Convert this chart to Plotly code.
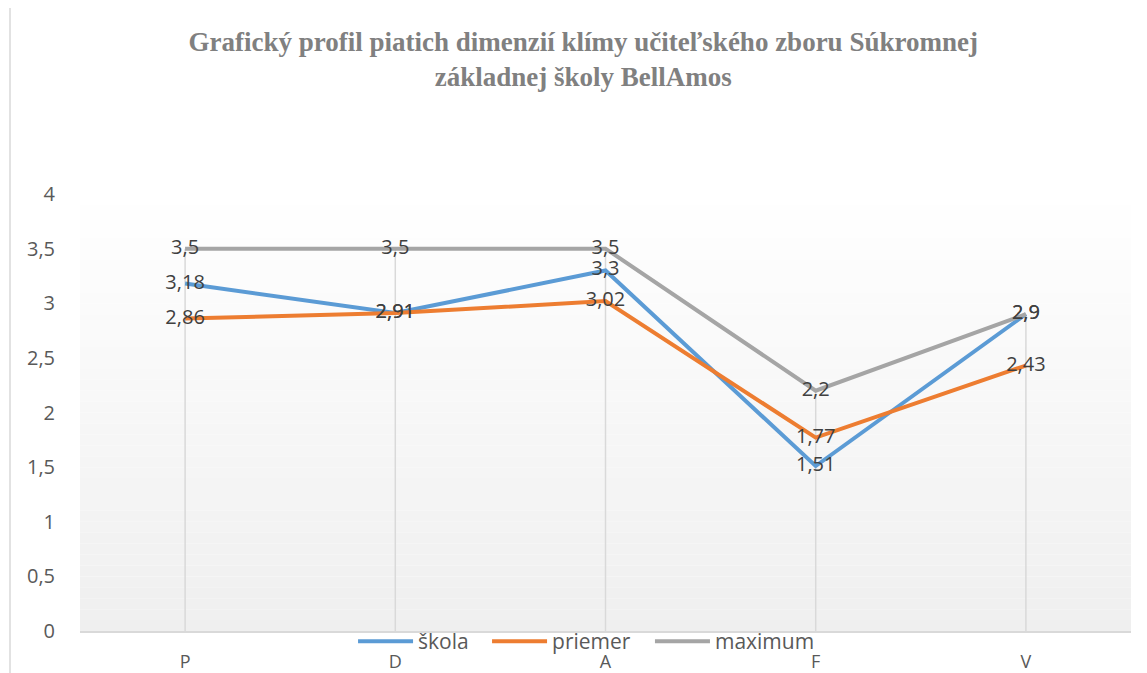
import plotly.graph_objects as go

categories = ["P", "D", "A", "F", "V"]
skola = [3.18, 2.91, 3.3, 1.51, 2.9]
priemer = [2.86, 2.91, 3.02, 1.77, 2.43]
maximum = [3.5, 3.5, 3.5, 2.2, 2.9]
y_ticks = [0, 0.5, 1, 1.5, 2, 2.5, 3, 3.5, 4]

title_text = ("Grafický profil piatich dimenzií klímy učiteľského zboru Súkromnej<br>"
              "základnej školy BellAmos")

series = [("škola", skola, "#5B9BD5"),
          ("priemer", priemer, "#ED7D31"),
          ("maximum", maximum, "#A5A5A5")]
legend_ids = ["legend", "legend2", "legend3"]
legend_x = [0.2598, 0.3873, 0.5423]

fig = go.Figure()

# drop lines (from highest value down to the category axis)
dx, dy = [], []
for i, c in enumerate(categories):
    top_v = max(s[1][i] for s in series)
    dx += [c, c, None]
    dy += [0, top_v, None]
fig.add_trace(go.Scatter(x=dx, y=dy, mode="lines", showlegend=False,
                         line=dict(color="#d9d9d9", width=1.5), hoverinfo="skip"))

for (name, vals, col), lid in zip(series, legend_ids):
    fig.add_trace(go.Scatter(x=categories, y=vals, name=name, mode="lines",
                             line=dict(color=col, width=4), legend=lid))

def fmt(v):
    return ("%g" % v).replace(".", ",")

for name, vals, col in series:
    fig.add_trace(go.Scatter(x=categories, y=vals, mode="text", showlegend=False,
                             text=[fmt(v) for v in vals], textposition="middle center",
                             textfont=dict(family="Open Sans", size=20, color="#404040"),
                             hoverinfo="skip"))

# gradient plot background
shapes = []
n = 40
top = (255, 255, 255)
bot = (239, 239, 239)
for i in range(n):
    t = (i + 0.5) / n
    c = tuple(int(round(top[k] + (bot[k] - top[k]) * t)) for k in range(3))
    shapes.append(dict(type="rect", xref="paper", yref="paper",
                       x0=0, x1=1, y0=1 - (i + 1) / n, y1=1 - i / n,
                       fillcolor="rgb(%d,%d,%d)" % c, line=dict(width=0),
                       layer="below"))
# chart border (left)
shapes.append(dict(type="line", xref="paper", yref="paper",
                   x0=-0.0666, x1=-0.0666, y0=-0.2, y1=1.5,
                   line=dict(color="#d9d9d9", width=1.5)))

legend_common = dict(orientation="h", xanchor="left", y=-0.024, yanchor="middle",
                     font=dict(family="Open Sans", size=21, color="#595959"),
                     bgcolor="rgba(0,0,0,0)", itemwidth=55)

layout_legends = {lid: dict(legend_common, x=lx) for lid, lx in zip(legend_ids, legend_x)}

fig.update_layout(
    width=1139, height=665,
    margin=dict(l=72, r=16, t=186, b=42, autoexpand=False),
    paper_bgcolor="white", plot_bgcolor="rgba(0,0,0,0)",
    separators=", ",
    title=dict(text=title_text, x=0.505, xref="container", xanchor="center",
               y=0.936, yanchor="middle",
               font=dict(family="Liberation Serif", size=27, color="#808080",
                         weight="bold")),
    shapes=shapes,
    showlegend=True,
    xaxis=dict(type="category", range=[-0.5, 4.5], showgrid=False,
               showline=True, linecolor="#d9d9d9", linewidth=1.5,
               tickfont=dict(family="Open Sans", size=18, color="#595959"),
               ticklabelstandoff=14, zeroline=False, fixedrange=True, automargin=False),
    yaxis=dict(range=[0, 4], tickvals=y_ticks, showgrid=False, zeroline=False,
               showline=False,
               tickfont=dict(family="Open Sans", size=20, color="#595959"),
               ticklabelstandoff=24, fixedrange=True, automargin=False),
    **layout_legends,
)

fig.write_html("out.html")
